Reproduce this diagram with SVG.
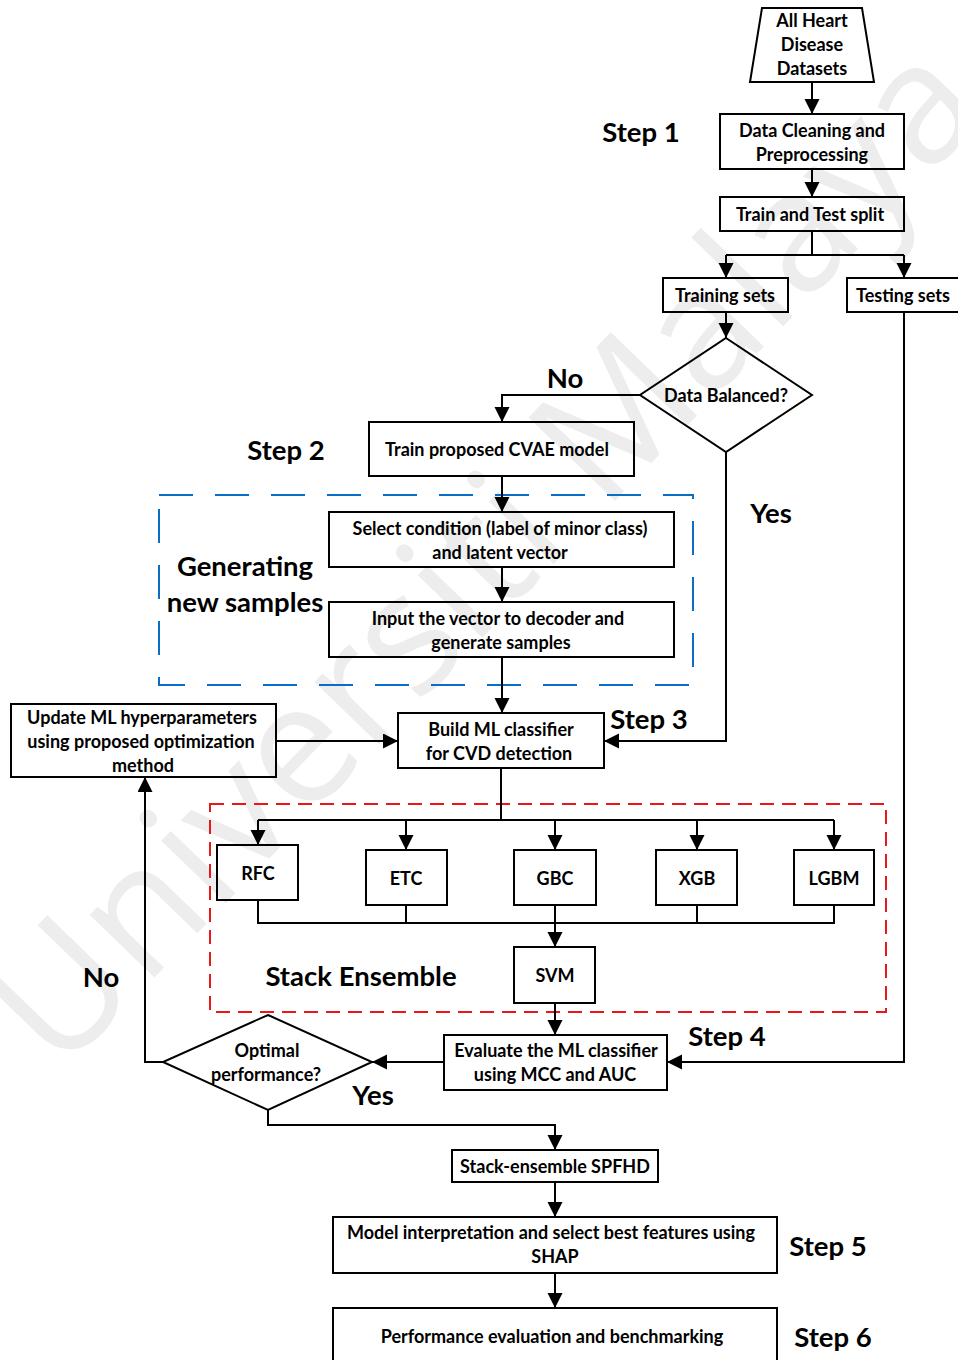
<svg xmlns="http://www.w3.org/2000/svg" width="958" height="1360" viewBox="0 0 958 1360">
  <defs>
    <marker id="arrow" markerUnits="userSpaceOnUse" markerWidth="16" markerHeight="16" refX="15" refY="7.5" orient="auto">
      <path d="M0,0 L15,7.5 L0,15 Z" fill="#000"/>
    </marker>
    <style>
      .box { fill: none; stroke: #000; stroke-width: 2; }
      .link { fill: none; stroke: #000; stroke-width: 2; }
      .arr { fill: none; stroke: #000; stroke-width: 2; marker-end: url(#arrow); }
      .t { font-family: Lato, "Open Sans", "Liberation Sans", sans-serif; font-weight: bold; font-size: 18px; text-anchor: middle; dominant-baseline: central; fill: #000; }
      .big { font-family: Lato, "Open Sans", "Liberation Sans", sans-serif; font-weight: bold; font-size: 27.5px; text-anchor: middle; dominant-baseline: central; fill: #000; }
      .wm { font-family: "Open Sans", "Liberation Sans", sans-serif; font-size: 168px; fill: #ededed; text-anchor: middle; dominant-baseline: central; }
    </style>
  </defs>
  <rect width="958" height="1360" fill="#fff"/>

  <!-- background watermark -->
  <text class="wm" transform="translate(478 548) rotate(-46)">Universiti Malaya</text>

  <!-- group frames -->
  <rect id="gen-frame" x="159" y="495" width="534" height="190" fill="none" stroke="#0a6fc2" stroke-width="2" stroke-dasharray="34,22"/>
  <rect id="ensemble-frame" x="210" y="804" width="676" height="208" fill="none" stroke="#e81818" stroke-width="2" stroke-dasharray="14,8"/>

  <!-- connectors -->
  <g id="connectors">
    <line class="arr" x1="812" y1="82" x2="812" y2="114"/>
    <line class="arr" x1="812" y1="169" x2="812" y2="197"/>
    <polyline class="link" points="812,231 812,255"/>
    <polyline class="link" points="726,255 904,255"/>
    <line class="arr" x1="726" y1="255" x2="726" y2="278"/>
    <line class="arr" x1="904" y1="255" x2="904" y2="278"/>
    <line class="arr" x1="726" y1="312" x2="726" y2="338"/>
    <polyline class="arr" points="640,395 502,395 502,422"/>
    <line class="arr" x1="502" y1="476" x2="502" y2="512"/>
    <line class="arr" x1="502" y1="567" x2="502" y2="602"/>
    <line class="arr" x1="502" y1="657" x2="502" y2="713"/>
    <polyline class="arr" points="726,452 726,741 604,741"/>
    <line class="arr" x1="276" y1="741" x2="398" y2="741"/>
    <polyline class="link" points="501,768 501,820"/>
    <polyline class="link" points="258,820 834,820"/>
    <line class="arr" x1="258" y1="820" x2="258" y2="845"/>
    <line class="arr" x1="406" y1="820" x2="406" y2="850"/>
    <line class="arr" x1="555" y1="820" x2="555" y2="850"/>
    <line class="arr" x1="697" y1="820" x2="697" y2="850"/>
    <line class="arr" x1="834" y1="820" x2="834" y2="850"/>
    <polyline class="link" points="258,900 258,923 834,923 834,905"/>
    <line class="link" x1="406" y1="905" x2="406" y2="923"/>
    <line class="link" x1="555" y1="905" x2="555" y2="923"/>
    <line class="link" x1="697" y1="905" x2="697" y2="923"/>
    <line class="arr" x1="555" y1="923" x2="555" y2="947"/>
    <line class="arr" x1="555" y1="1003" x2="555" y2="1035"/>
    <polyline class="arr" points="904,312 904,1062 667,1062"/>
    <line class="arr" x1="444" y1="1062" x2="372" y2="1062"/>
    <polyline class="arr" points="163,1062 145,1062 145,777"/>
    <polyline class="arr" points="268,1110 268,1125 555,1125 555,1150"/>
    <line class="arr" x1="555" y1="1182" x2="555" y2="1217"/>
    <line class="arr" x1="555" y1="1273" x2="555" y2="1308"/>
  </g>

  <!-- nodes -->
  <g id="datasets">
    <polygon class="box" points="762,8 862,8 874,82 750,82"/>
    <text class="t" x="812" y="20">All Heart</text>
    <text class="t" x="812" y="44">Disease</text>
    <text class="t" x="812" y="68">Datasets</text>
  </g>
  <g id="cleaning">
    <rect class="box" x="720" y="114" width="184" height="55"/>
    <text class="t" x="812" y="130">Data Cleaning and</text>
    <text class="t" x="812" y="154">Preprocessing</text>
  </g>
  <g id="split">
    <rect class="box" x="720" y="197" width="184" height="34"/>
    <text class="t" x="810" y="214">Train and Test split</text>
  </g>
  <g id="training">
    <rect class="box" x="663" y="278" width="125" height="34"/>
    <text class="t" x="725" y="295">Training sets</text>
  </g>
  <g id="testing">
    <rect class="box" x="847" y="278" width="120" height="34"/>
    <text class="t" x="903" y="295">Testing sets</text>
  </g>
  <g id="balanced">
    <polygon class="box" points="726,338 812,395 726,452 640,395"/>
    <text class="t" x="726" y="395">Data Balanced?</text>
  </g>
  <g id="cvae">
    <rect class="box" x="369" y="422" width="265" height="54"/>
    <text class="t" x="497" y="449">Train proposed CVAE model</text>
  </g>
  <g id="select">
    <rect class="box" x="329" y="512" width="345" height="55"/>
    <text class="t" x="500" y="528">Select condition (label of minor class)</text>
    <text class="t" x="500" y="552">and latent vector</text>
  </g>
  <g id="decoder">
    <rect class="box" x="329" y="602" width="345" height="55"/>
    <text class="t" x="498" y="618">Input the vector to decoder and</text>
    <text class="t" x="501" y="642">generate samples</text>
  </g>
  <g id="update">
    <rect class="box" x="11" y="704" width="265" height="73"/>
    <text class="t" x="142" y="717">Update ML hyperparameters</text>
    <text class="t" x="141" y="741">using proposed optimization</text>
    <text class="t" x="143" y="765">method</text>
  </g>
  <g id="build">
    <rect class="box" x="398" y="713" width="206" height="55"/>
    <text class="t" x="501" y="729">Build ML classifier</text>
    <text class="t" x="499" y="753">for CVD detection</text>
  </g>
  <g id="rfc">
    <rect class="box" x="217" y="845" width="81" height="55"/>
    <text class="t" x="258" y="873">RFC</text>
  </g>
  <g id="etc">
    <rect class="box" x="366" y="850" width="81" height="55"/>
    <text class="t" x="406" y="878">ETC</text>
  </g>
  <g id="gbc">
    <rect class="box" x="514" y="850" width="82" height="55"/>
    <text class="t" x="555" y="878">GBC</text>
  </g>
  <g id="xgb">
    <rect class="box" x="656" y="850" width="81" height="55"/>
    <text class="t" x="697" y="878">XGB</text>
  </g>
  <g id="lgbm">
    <rect class="box" x="794" y="850" width="80" height="55"/>
    <text class="t" x="834" y="878">LGBM</text>
  </g>
  <g id="svm">
    <rect class="box" x="514" y="947" width="81" height="56"/>
    <text class="t" x="555" y="975">SVM</text>
  </g>
  <g id="evaluate">
    <rect class="box" x="444" y="1035" width="223" height="55"/>
    <text class="t" x="556" y="1050">Evaluate the ML classifier</text>
    <text class="t" x="555" y="1074">using MCC and AUC</text>
  </g>
  <g id="optimal">
    <polygon class="box" points="268,1015 372,1062 268,1110 163,1062"/>
    <text class="t" x="267" y="1050">Optimal</text>
    <text class="t" x="266" y="1074">performance?</text>
  </g>
  <g id="spfhd">
    <rect class="box" x="452" y="1150" width="206" height="32"/>
    <text class="t" x="555" y="1166">Stack-ensemble SPFHD</text>
  </g>
  <g id="shap">
    <rect class="box" x="333" y="1217" width="444" height="56"/>
    <text class="t" x="551" y="1232">Model interpretation and select best features using</text>
    <text class="t" x="555" y="1256">SHAP</text>
  </g>
  <g id="benchmark">
    <rect class="box" x="333" y="1308" width="444" height="60"/>
    <text class="t" x="552" y="1336">Performance evaluation and benchmarking</text>
  </g>

  <!-- step and branch labels -->
  <g id="labels">
    <text class="big" x="641" y="131">Step 1</text>
    <text class="big" x="286" y="449">Step 2</text>
    <text class="big" x="649" y="718">Step 3</text>
    <text class="big" x="727" y="1035">Step 4</text>
    <text class="big" x="828" y="1245">Step 5</text>
    <text class="big" x="833" y="1336">Step 6</text>
    <text class="big" x="565" y="377">No</text>
    <text class="big" x="771" y="512">Yes</text>
    <text class="big" x="101" y="976">No</text>
    <text class="big" x="373" y="1094">Yes</text>
    <text class="big" x="245" y="565">Generating</text>
    <text class="big" x="245" y="601">new samples</text>
    <text class="big" x="361" y="975">Stack Ensemble</text>
  </g>
</svg>
